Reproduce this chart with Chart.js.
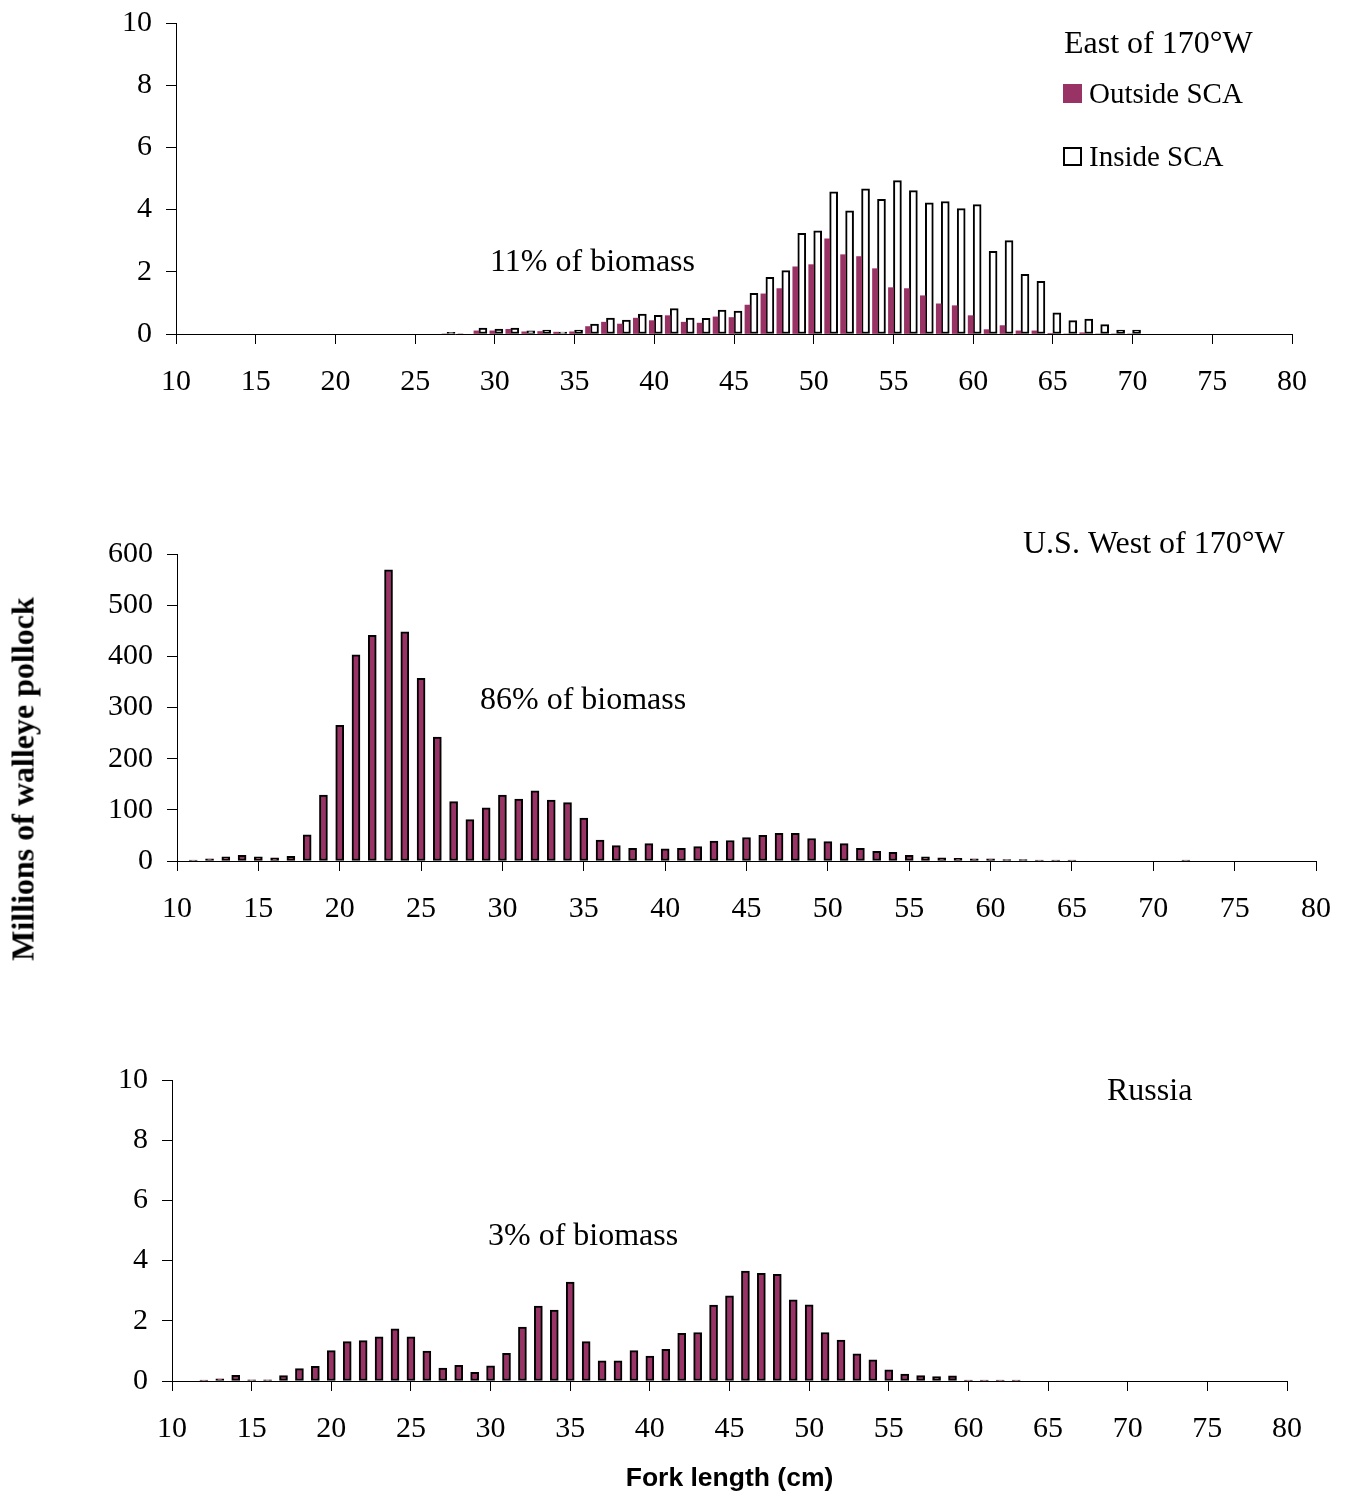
<!DOCTYPE html>
<html>
<head>
<meta charset="utf-8">
<title>Walleye pollock length composition</title>
<script src="https://cdn.jsdelivr.net/npm/chart.js@4.4.1/dist/chart.umd.min.js"></script>
<style>
  html, body { margin: 0; padding: 0; background: #fff; }
  body { width: 1347px; height: 1495px; position: relative; overflow: hidden; }
  .panel { position: absolute; left: 0; width: 1347px; }
  #ytitle {
    position: absolute; left: 23px; top: 779px;
    transform: translate(-50%, -50%) rotate(-90deg);
    font: bold 32px 'Liberation Serif', 'Times New Roman', serif;
    white-space: nowrap; color: #000;
  }
</style>
</head>
<body>
<div class="panel" style="top:0;height:430px"><canvas id="east"></canvas></div>
<div class="panel" style="top:430px;height:520px"><canvas id="west"></canvas></div>
<div class="panel" style="top:950px;height:545px"><canvas id="russia"></canvas></div>
<div id="ytitle">Millions of walleye pollock</div>
<script>
Chart.defaults.font.family = "'Liberation Serif', 'Times New Roman', serif"
Chart.defaults.font.size = 30
Chart.defaults.color = '#000'
Chart.defaults.animation = false

const plum = '#993366'

// East of 170W (millions), by fork length
const eastLength = [27, 28, 29, 30, 31, 32, 33, 34, 35, 36, 37, 38, 39, 40, 41, 42, 43, 44, 45, 46, 47, 48,
  49, 50, 51, 52, 53, 54, 55, 56, 57, 58, 59, 60, 61, 62, 63, 64, 65, 66, 67, 68, 69, 70]
const eastOutside = [0, 0, 0.10, 0.10, 0.15, 0.07, 0.08, 0.06, 0.07, 0.24, 0.38, 0.32, 0.51, 0.43, 0.59, 0.38,
  0.35, 0.55, 0.53, 0.93, 1.29, 1.46, 2.16, 2.23, 3.06, 2.55, 2.49, 2.10, 1.49, 1.46, 1.23, 0.97, 0.91, 0.59,
  0.14, 0.27, 0.10, 0.10, 0.02, 0, 0.04, 0, 0, 0]
const eastInside = [0.05, 0, 0.19, 0.16, 0.19, 0.10, 0.13, 0.06, 0.13, 0.32, 0.51, 0.45, 0.64, 0.60, 0.82, 0.51,
  0.50, 0.77, 0.74, 1.31, 1.82, 2.04, 3.24, 3.32, 4.57, 3.96, 4.67, 4.33, 4.93, 4.61, 4.22, 4.26, 4.03, 4.16,
  2.66, 3.00, 1.92, 1.69, 0.68, 0.43, 0.48, 0.30, 0.13, 0.13]

// U.S. West of 170W
const westLength = [11, 12, 13, 14, 15, 16, 17, 18, 19, 20, 21, 22, 23, 24, 25, 26, 27, 28, 29, 30, 31, 32, 33,
  34, 35, 36, 37, 38, 39, 40, 41, 42, 43, 44, 45, 46, 47, 48, 49, 50, 51, 52, 53, 54, 55, 56, 57, 58, 59, 60,
  61, 62, 63, 64, 65, 72]
const westCount = [2, 4, 8, 11, 8, 6, 9, 51, 129, 265, 403, 441, 569, 448, 357, 242, 116, 81, 104, 129, 121, 137,
  119, 114, 84, 41, 30, 25, 34, 24, 25, 28, 39, 40, 46, 50, 54, 54, 44, 38, 34, 25, 19, 17, 11, 8, 6, 5, 4, 4,
  3, 3, 2, 2, 2, 2]

// Russia
const russiaLength = [12, 13, 14, 15, 16, 17, 18, 19, 20, 21, 22, 23, 24, 25, 26, 27, 28, 29, 30, 31, 32, 33, 34,
  35, 36, 37, 38, 39, 40, 41, 42, 43, 44, 45, 46, 47, 48, 49, 50, 51, 52, 53, 54, 55, 56, 57, 58, 59, 60, 61,
  62, 63]
const russiaCount = [0.03, 0.07, 0.19, 0.04, 0.04, 0.18, 0.41, 0.49, 1.01, 1.31, 1.34, 1.47, 1.73, 1.47, 0.99,
  0.43, 0.52, 0.29, 0.50, 0.92, 1.79, 2.49, 2.36, 3.29, 1.31, 0.67, 0.67, 1.01, 0.83, 1.05, 1.58, 1.61, 2.52,
  2.83, 3.65, 3.58, 3.54, 2.70, 2.53, 1.61, 1.36, 0.90, 0.70, 0.37, 0.23, 0.18, 0.15, 0.17, 0.03, 0.03, 0.03, 0.03]

const lengthTicks = [10, 15, 20, 25, 30, 35, 40, 45, 50, 55, 60, 65, 70, 75, 80]
const smallTicks = [0, 2, 4, 6, 8, 10]
const westTicks = [0, 100, 200, 300, 400, 500, 600]

const pts = (xs, ys) => xs.map((x, i) => ({ x: x, y: ys[i] }))

// plain text labels + the hand-placed legend of the top panel
const notes = {
  id: 'notes',
  afterDraw(chart, args, opts) {
    const ctx = chart.ctx
    ctx.save()
    ctx.textAlign = 'left'
    ctx.textBaseline = 'alphabetic'
    ctx.fillStyle = '#000'
    for (const n of opts.items || []) {
      ctx.font = n.size + "px 'Liberation Serif', 'Times New Roman', serif"
      ctx.fillText(n.text, n.x, n.y)
    }
    const lg = opts.legend
    if (lg) {
      chart.data.datasets.forEach((ds, i) => {
        const y = lg.y + i * lg.gap
        ctx.fillStyle = ds.backgroundColor
        ctx.fillRect(lg.x, y, 19, 19)
        if (ds.borderWidth) {
          ctx.strokeStyle = ds.borderColor
          ctx.lineWidth = 2
          ctx.strokeRect(lg.x + 1, y + 1, 17, 17)
        }
        ctx.fillStyle = '#000'
        ctx.font = lg.size + "px 'Liberation Serif', 'Times New Roman', serif"
        ctx.fillText(ds.label, lg.x + 26, y + 19)
      })
    }
    ctx.restore()
  }
}

// the layout padding alone decides where each plot area sits
function noOverflow(s) {
  s.paddingLeft = 0
  s.paddingRight = 0
  s.paddingTop = 0
  s.paddingBottom = 0
}

function lengthAxis(height, title) {
  return {
    type: 'linear', min: 10, max: 80, offset: false,
    afterBuildTicks: s => { s.ticks = lengthTicks.map(v => ({ value: v })) },
    afterFit: s => { s.height = height; noOverflow(s) },
    grid: { drawOnChartArea: false, drawTicks: true, tickLength: 10, color: '#000', offset: false },
    border: { display: true, color: '#000', width: 1 },
    ticks: { padding: 20, maxRotation: 0, autoSkip: false },
    title: title || { display: false }
  }
}

function countAxis(max, ticks, width) {
  return {
    type: 'linear', min: 0, max: max,
    afterBuildTicks: s => { s.ticks = ticks.map(v => ({ value: v })) },
    afterFit: s => { s.width = width; noOverflow(s) },
    grid: { drawOnChartArea: false, drawTicks: true, tickLength: 10, color: '#000' },
    border: { display: true, color: '#000', width: 1 },
    ticks: { padding: 14 }
  }
}

function barSet(label, xs, ys) {
  return {
    label: label, data: pts(xs, ys),
    backgroundColor: plum, borderColor: '#000', borderWidth: 2,
    borderSkipped: false, barThickness: 8
  }
}

const common = {
  responsive: true, maintainAspectRatio: false, devicePixelRatio: 1,
  events: []
}

new Chart(document.getElementById('east'), {
  type: 'bar',
  data: {
    datasets: [
      { label: 'Outside SCA', data: pts(eastLength, eastOutside), backgroundColor: plum,
        borderWidth: 0, barThickness: 5 },
      { label: 'Inside SCA', data: pts(eastLength, eastInside), backgroundColor: '#fff',
        borderColor: '#000', borderWidth: 2, borderSkipped: false, barThickness: 8 }
    ]
  },
  options: Object.assign({}, common, {
    layout: { padding: { left: 0, right: 55, top: 23, bottom: 36 } },
    scales: { x: lengthAxis(60), y: countAxis(10, smallTicks, 176) },
    plugins: {
      legend: { display: false }, tooltip: { enabled: false },
      notes: {
        items: [
          { text: 'East of 170°W', x: 1064, y: 53, size: 32 },
          { text: '11% of biomass', x: 490, y: 271, size: 32 }
        ],
        legend: { x: 1063, y: 84, gap: 63, size: 29 }
      }
    }
  }),
  plugins: [notes]
})

new Chart(document.getElementById('west'), {
  type: 'bar',
  data: { datasets: [barSet('U.S. West of 170°W', westLength, westCount)] },
  options: Object.assign({}, common, {
    layout: { padding: { left: 1, right: 31, top: 124, bottom: 29 } },
    scales: { x: lengthAxis(60), y: countAxis(600, westTicks, 176) },
    plugins: {
      legend: { display: false }, tooltip: { enabled: false },
      notes: {
        items: [
          { text: 'U.S. West of 170°W', x: 1023, y: 123, size: 32 },
          { text: '86% of biomass', x: 480, y: 279, size: 32 }
        ]
      }
    }
  }),
  plugins: [notes]
})

new Chart(document.getElementById('russia'), {
  type: 'bar',
  data: { datasets: [barSet('Russia', russiaLength, russiaCount)] },
  options: Object.assign({}, common, {
    layout: { padding: { left: 0, right: 60, top: 130, bottom: 0 } },
    scales: {
      x: lengthAxis(114, {
        display: true, text: 'Fork length (cm)', color: '#000',
        font: { family: "'Liberation Sans', Arial, sans-serif", size: 26.5, weight: 'bold' },
        padding: { top: 0, bottom: 0 }
      }),
      y: countAxis(10, smallTicks, 172)
    },
    plugins: {
      legend: { display: false }, tooltip: { enabled: false },
      notes: {
        items: [
          { text: 'Russia', x: 1107, y: 150, size: 32 },
          { text: '3% of biomass', x: 488, y: 295, size: 32 }
        ]
      }
    }
  }),
  plugins: [notes]
})
</script>
</body>
</html>
